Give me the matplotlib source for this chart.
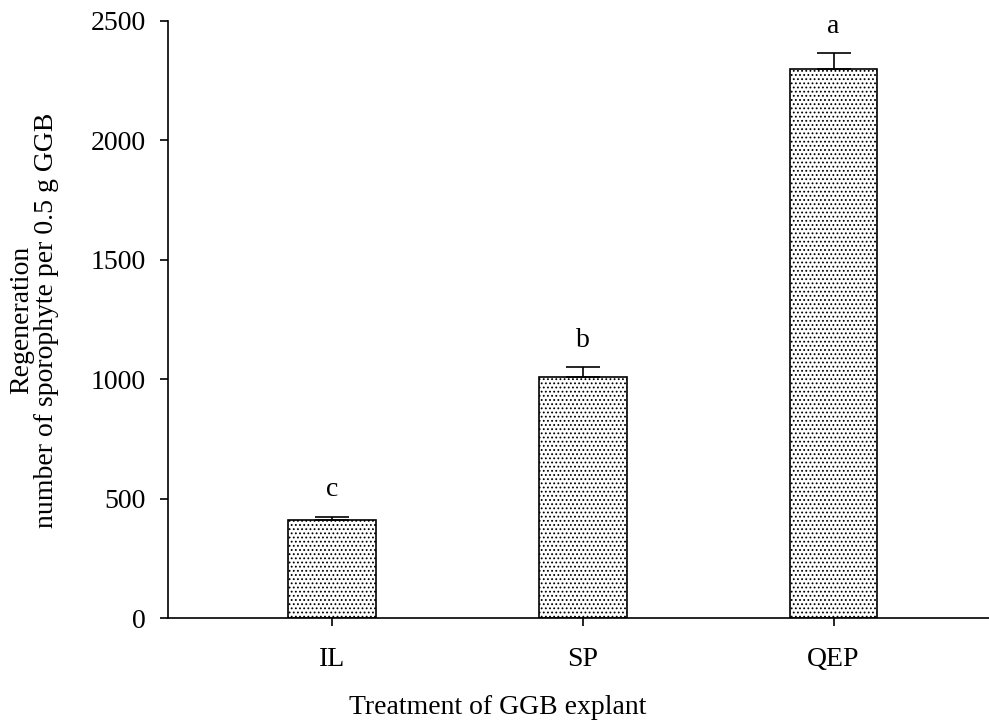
import numpy as np
import matplotlib
matplotlib.use("Agg")
from matplotlib import pyplot as plt

# values
treatments = ["IL", "SP", "QEP"]
regen_mean = [410, 1010, 2300]
regen_se = [15, 40, 67]
letters = ["c", "b", "a"]

plt.rcParams['font.family'] = ['Liberation Serif', 'DejaVu Serif']
plt.rcParams['hatch.linewidth'] = 0.8
plt.rcParams['hatch.color'] = '#333333'

fig = plt.figure(figsize=(9.89, 7.24), dpi=100)
ax = fig.add_axes([0.170, 0.1464, 0.830, 0.8246])

x = np.arange(len(treatments))
ax.bar(x, regen_mean, width=0.35, color='white', edgecolor='black',
       linewidth=1.2, hatch='....', zorder=2)
ax.errorbar(x, regen_mean, yerr=[np.zeros(len(x)), regen_se], fmt='none',
            ecolor='black', elinewidth=1.2, capsize=12, capthick=1.2, zorder=3)

for xi, m, s, lab in zip(x, regen_mean, regen_se, letters):
    ax.annotate(lab, (xi, m + s), xytext=(0, 14.5), textcoords='offset points',
                ha='center', va='baseline', fontsize=20)

ax.set_xlim(-0.653, 2.62)
ax.set_ylim(0, 2500)
ax.set_yticks([0, 500, 1000, 1500, 2000, 2500])
ax.set_xticks(x)
ax.set_xticklabels(treatments)
ax.tick_params(axis='y', direction='out', length=6, width=1.2, pad=10, labelsize=20)
ax.tick_params(axis='x', direction='out', length=6, width=1.2, pad=15, labelsize=20)
for side in ['top', 'right']:
    ax.spines[side].set_visible(False)
for side in ['left', 'bottom']:
    ax.spines[side].set_linewidth(1.2)

fig.text(498/989, 1 - 708/724, "Treatment of GGB explant", ha='center', va='center', fontsize=20)
fig.text(34/989, 1 - 320/724, "Regeneration\nnumber of sporophyte per 0.5 g GGB",
         ha='center', va='center', rotation=90, fontsize=20, linespacing=1.0)

fig.savefig("out.png", dpi=100)
